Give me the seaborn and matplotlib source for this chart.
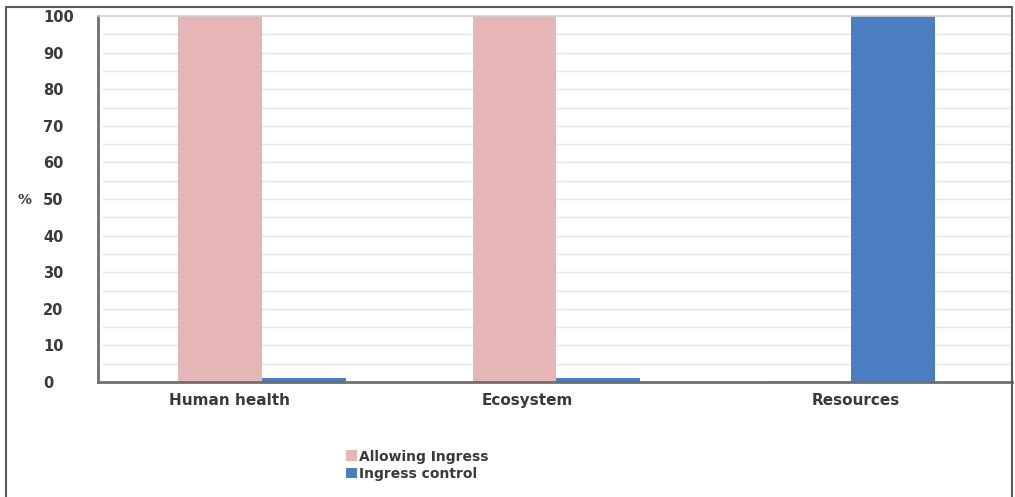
import matplotlib
matplotlib.use("Agg")
import matplotlib.pyplot as plt
from matplotlib.lines import Line2D
from matplotlib.patches import Patch
import seaborn as sns
import pandas as pd
import numpy as np

# Data
categories = ["Human health", "Ecosystem", "Resources"]
series_names = ["Allowing Ingress", "Ingress control"]
allowing_ingress = [100, 100, 0.3]
ingress_control = [1, 1, 100]
y_ticks = [0, 10, 20, 30, 40, 50, 60, 70, 80, 90, 100]

colors = ["#E5B6B5", "#4A7DC1"]
text_color = "#3a3a3a"

df = pd.DataFrame({
    "category": categories * 2,
    "series": [series_names[0]] * len(categories) + [series_names[1]] * len(categories),
    "value": allowing_ingress + ingress_control,
})

sns.set_theme(style="white")
plt.rcParams["font.family"] = ["DejaVu Sans"]

fig = plt.figure(figsize=(10.15, 4.97), dpi=100)
ax = fig.add_axes([98 / 1015, 1 - 382 / 497, (1012 - 98) / 1015, (382 - 16) / 497])

sns.barplot(data=df, x="category", y="value", hue="series", order=categories,
            hue_order=series_names, palette=colors, width=0.57, saturation=1,
            linewidth=0, ax=ax, legend=False)

ax.set_ylim(0, 100)
ax.set_xlim(-0.557, 2.547)
ax.set_yticks(y_ticks)
ax.set_yticklabels([str(v) for v in y_ticks], fontsize=10.5, fontweight="bold",
                   color=text_color, ha="left")
# category labels sit slightly off the group centres
ax.set_xticks([-0.11, 0.90, 2.015])
ax.set_xticklabels(categories, fontsize=11, fontweight="bold", color=text_color)
ax.tick_params(axis="y", length=0, pad=39.5)
ax.tick_params(axis="x", length=0, pad=8)
ax.set_xlabel("")
ax.set_ylabel("")

# Light gridlines every 5 units behind the bars
for g in np.arange(5, 100, 5):
    ax.axhline(g, xmin=0.006, color="#e4e4e4", lw=1.0, zorder=0)
ax.set_axisbelow(True)

for side in ["left", "bottom"]:
    ax.spines[side].set_color("#6f6f6f")
    ax.spines[side].set_linewidth(2.0)
ax.spines["top"].set_color("#cfcfcf")
ax.spines["top"].set_linewidth(1.2)
ax.spines["right"].set_color("#7a7a7a")
ax.spines["right"].set_linewidth(1.5)

fig.text(24 / 1015, 1 - 200 / 497, "%", fontsize=10, fontweight="bold",
         color=text_color, ha="center", va="center")

# Outer chart frame
frame_kw = dict(color="#5a5a5a", lw=1.5, transform=fig.transFigure)
fig.add_artist(Line2D([6 / 1015, 6 / 1015], [0, 1 - 7 / 497], **frame_kw))
fig.add_artist(Line2D([6 / 1015, 1012 / 1015], [1 - 7 / 497, 1 - 7 / 497], **frame_kw))
fig.add_artist(Line2D([1012 / 1015, 1012 / 1015], [0, 1 - 7 / 497], **frame_kw))

handles = [Patch(facecolor=c, edgecolor="none") for c in colors]
fig.legend(handles, series_names, loc="upper left",
           bbox_to_anchor=(333 / 1015, 1 - 437 / 497), frameon=False,
           handlelength=0.8, handleheight=0.8, handletextpad=0.15,
           labelspacing=0.25, prop={"size": 10, "weight": "bold"},
           labelcolor=text_color)

fig.savefig("out.png", dpi=100, facecolor="white")
